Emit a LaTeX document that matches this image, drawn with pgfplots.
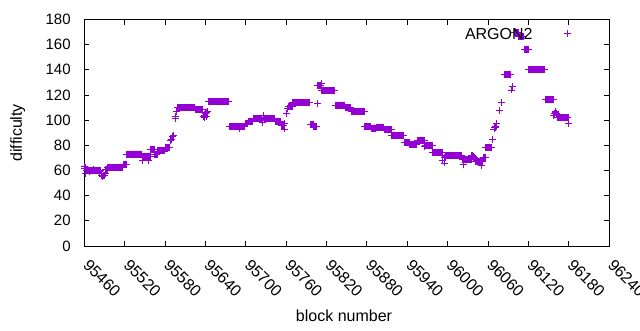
\documentclass[border=0pt]{standalone}
\usepackage{fontspec}
\setmainfont{Liberation Sans}
\usepackage{pgfplots}
\usepackage{pgfplotstable}
\pgfplotsset{compat=1.18}
\definecolor{gpviolet}{HTML}{9400D3}
\pgfplotstableread[row sep=\\]{
x y\\
95460 63\\95461 62\\95462 58\\
95463 60\\95464 60\\95465 60\\95466 60\\95467 59\\95468 60\\95469 60\\95470 60\\95471 60\\95472 60\\95473 60\\95474 61\\95475 60\\95476 60\\95477 60\\95478 60\\95479 60\\95480 60\\95481 60\\95482 59\\95483 60\\95484 60\\
95485 56\\95486 56\\95487 55\\95488 56\\95489 56\\95490 56\\95491 58\\95492 61\\95493 61\\95494 61\\
95495 62.5\\95496 62.5\\95497 62.5\\95498 62.5\\95499 62.5\\95500 62.5\\95501 62.5\\95502 62.5\\95503 62.5\\95504 62.5\\95505 62.5\\95506 62.5\\95507 62.5\\95508 62.5\\95509 62.5\\95510 62.5\\95511 62.5\\95512 62.5\\95513 62.5\\95514 62.5\\95515 62.5\\95516 62.5\\95517 62.5\\
95518 65\\95519 65\\95520 65\\95521 65\\95522 65\\
95523 73\\95524 73\\95525 73\\95526 73\\95527 73\\95528 73\\95529 73\\95530 73\\95531 73\\95532 73\\95533 73\\95534 73\\95535 73\\95536 73\\95537 73\\95538 73\\95539 73\\95540 73\\95541 73\\95542 73\\95543 73\\95544 73\\95545 73\\
95546 68\\
95547 71.5\\95548 71.5\\95549 71.5\\95550 71.5\\95551 71.5\\95552 71.5\\95553 71.5\\95554 71.5\\95555 71.5\\95556 68\\95557 71.5\\95558 71.5\\
95559 77\\95560 77\\95561 77\\95562 77\\95563 77\\95564 77\\
95565 73\\95566 73\\95567 73\\95568 73\\
95569 75.5\\95570 75.5\\95571 75.5\\95572 75.5\\95573 75.5\\95574 75.5\\95575 75.5\\95576 75.5\\95577 75.5\\95578 75.5\\95579 75.5\\
95580 78\\95581 78\\95582 78\\95583 78\\95584 78\\95585 78\\95586 78\\95587 78\\
95588 84\\95590 85\\95591 87\\95592 88\\95595 101\\95596 103\\95597 107\\
95598 110\\95599 110\\95600 110\\95601 110\\95602 110\\95603 110\\95604 110\\95605 110\\95606 110\\95607 110\\95608 110\\95609 110\\95610 110\\95611 110\\95612 110\\95613 110\\95614 110\\95615 110\\95616 110\\95617 110\\95618 110\\95619 110\\95620 110\\95621 110\\95622 110\\95623 110\\95624 110\\
95625 108.5\\95626 108.5\\95627 108.5\\95628 108.5\\95629 108.5\\95630 108.5\\95631 108.5\\95632 108.5\\95633 108.5\\95634 108.5\\95635 108.5\\95636 108.5\\
95637 103\\95638 102\\95639 104\\95640 105\\95641 103\\95642 106\\95643 107\\
95645 115\\95646 115\\95647 115\\95648 115\\95649 115\\95650 115\\95651 115\\95652 115\\95653 115\\95654 115\\95655 115\\95656 115\\95657 115\\95658 115\\95659 115\\95660 115\\95661 115\\95662 115\\95663 115\\95664 115\\95665 115\\95666 115\\95667 115\\95668 115\\95669 115\\95670 115\\95671 115\\95672 115\\95673 115\\95674 115\\95675 115\\
95676 95\\95677 95\\95678 95\\95679 95\\95680 95\\95681 95\\95682 95\\95683 95\\95684 95\\95685 95\\95686 95\\95687 95\\95688 95\\95689 95\\95690 95\\95691 93\\95692 95\\95693 95\\95694 95\\95695 95\\95696 95\\95697 95\\95698 95\\
95699 97\\95700 97\\95701 97\\95702 97\\95703 97\\
95704 99\\95705 99\\95706 99\\95707 99\\95708 99\\95709 99\\95710 99\\
95711 101.5\\95712 101.5\\95713 101.5\\95714 101.5\\95715 101.5\\95716 101.5\\95717 101.5\\95718 101.5\\95719 101.5\\95720 101.5\\95721 101.5\\95722 101.5\\95723 101.5\\95724 101.5\\
95725 98\\95726 102\\95727 104\\
95728 101\\95729 101\\95730 101\\95731 101\\95732 101\\95733 101\\95734 101\\95735 101\\95736 101\\95737 101\\95738 101\\95739 101\\95740 101\\95741 101\\95742 101\\95743 101\\
95744 99\\95745 99\\95746 99\\95747 99\\95748 99\\95749 99\\95750 99\\95751 99\\95752 99\\
95753 96\\95754 96\\95755 96\\95756 96\\95757 93\\95758 97\\95760 105\\95762 109\\
95763 111\\95764 111\\95765 111\\95766 111\\95767 111\\95768 111\\95769 111\\
95770 114\\95771 114\\95772 114\\95773 114\\95774 114\\95775 114\\95776 114\\95777 114\\95778 114\\95779 114\\95780 114\\95781 114\\95782 114\\95783 114\\95784 114\\95785 114\\95786 114\\95787 114\\95788 114\\95789 114\\95790 114\\95791 114\\95792 114\\95793 114\\95794 114\\95795 114\\
95796 96.5\\95797 96.5\\95798 96.5\\95799 96.5\\95800 96.5\\
95801 95\\95802 95\\95803 95\\95804 95\\95805 95\\
95806 113\\
95807 127.5\\95808 127.5\\95809 127.5\\95810 127.5\\95811 127.5\\95812 129\\
95813 123.5\\95814 123.5\\95815 123.5\\95816 123.5\\95817 123.5\\95818 123.5\\95819 123.5\\95820 123.5\\95821 123.5\\95822 123.5\\95823 123.5\\95824 123.5\\95825 123.5\\95826 123.5\\95827 123.5\\95828 123.5\\95829 123.5\\95830 123.5\\95831 123.5\\95832 123.5\\
95833 112\\95834 112\\95835 112\\95836 112\\95837 112\\95838 112\\95839 112\\95840 112\\95841 112\\95842 112\\95843 112\\95844 112\\95845 112\\95846 112\\95847 112\\
95848 110\\95849 110\\95850 110\\95851 110\\95852 110\\95853 110\\95854 110\\95855 110\\95856 110\\
95857 107\\95858 107\\95859 107\\95860 107\\95861 107\\95862 107\\95863 107\\95864 107\\95865 107\\95866 107\\95867 107\\95868 107\\95869 107\\95870 107\\95871 107\\95872 107\\95873 107\\95874 107\\95875 107\\95876 107\\
95877 95\\95878 95\\95879 95\\95880 95\\95881 95\\95882 95\\95883 95\\95884 95\\95885 95\\95886 95\\
95887 93.5\\95888 93.5\\95889 93.5\\95890 93.5\\95891 93.5\\95892 93.5\\95893 93.5\\
95894 94.5\\95895 94.5\\95896 94.5\\95897 94.5\\95898 94.5\\95899 94.5\\95900 94.5\\95901 94.5\\95902 94.5\\95903 94.5\\95904 94.5\\95905 94.5\\
95906 92.5\\95907 92.5\\95908 92.5\\95909 92.5\\95910 92.5\\95911 92.5\\95912 92.5\\95913 92.5\\95914 92.5\\95915 92.5\\95916 92.5\\
95917 88\\95918 88\\95919 88\\95920 88\\95921 88\\95922 88\\95923 88\\95924 88\\95925 88\\95926 88\\95927 88\\95928 88\\95929 88\\95930 88\\95931 88\\95932 88\\95933 88\\95934 88\\95935 88\\
95936 82.5\\95937 82.5\\95938 82.5\\95939 82.5\\95940 82.5\\95941 82.5\\95942 82.5\\95943 82.5\\
95944 81\\95945 81\\95946 81\\95947 81\\95948 81\\95949 81\\95950 81\\95951 81\\95952 81\\95953 81\\95954 81\\
95955 84\\95956 84\\95957 84\\95958 84\\95959 84\\95960 84\\95961 84\\95962 84\\95963 84\\95964 84\\95965 84\\
95966 79\\
95967 80\\95968 80\\95969 80\\95970 80\\95971 80\\95972 80\\95973 80\\95974 80\\95975 80\\95976 80\\95977 80\\
95978 74\\95979 74\\95980 74\\95981 74\\95982 74\\95983 74\\95984 74\\95985 74\\95986 74\\95987 74\\95988 74\\95989 74\\95990 74\\95991 74\\95992 74\\
95993 68\\95995 66\\95996 70\\95997 71\\
95998 72\\95999 72\\96000 72\\96001 72\\96002 72\\96003 72\\96004 72\\96005 72\\96006 72\\96007 72\\96008 72\\96009 72\\96010 72\\96011 72\\96012 72\\96013 72\\96014 72\\96015 72\\96016 72\\96017 72\\96018 72\\96019 72\\96020 72\\96021 72\\
96022 69\\96023 65\\96024 69\\96025 69\\96026 69\\96027 69\\96028 69\\96029 69\\96030 69\\96031 69\\96032 69\\96033 69\\96034 69\\96035 69\\
96036 72\\96037 72\\96038 71\\96039 70\\96040 70\\
96041 67\\96042 67\\96043 67\\96044 67\\96045 67\\96046 67\\96047 67\\96048 67\\96049 67\\96050 64\\96051 67\\96052 67\\
96053 70\\96054 70\\96055 70\\96056 70\\
96057 78\\96058 78\\96059 78\\96060 78\\96061 78\\96062 78\\96063 78\\96064 78\\96065 78\\
96067 85\\96069 93\\96070 94\\96071 94\\96072 95\\96073 97\\96077 108\\96080 114\\
96084 136\\96085 136\\96086 136\\96087 136\\96088 136\\96089 136\\96090 136\\96091 136\\96092 136\\96093 136\\96094 136\\
96095 124\\96097 127\\
96100 170\\96101 170\\96102 170\\96103 170\\96104 170\\96105 170\\
96106 166.5\\96107 166.5\\96108 166.5\\96109 166.5\\96110 166.5\\96111 166.5\\96112 166.5\\96113 166.5\\
96114 156.5\\96115 156.5\\96116 156.5\\96117 156.5\\96118 156.5\\96119 156.5\\96120 156.5\\
96121 140\\96122 140\\96123 140\\96124 140\\96125 140\\96126 140\\96127 140\\96128 140\\96129 140\\96130 140\\96131 140\\96132 140\\96133 140\\96134 140\\96135 140\\96136 140\\96137 140\\96138 140\\96139 140\\96140 140\\96141 140\\96142 140\\96143 140\\96144 140\\
96145 116.5\\96146 116.5\\96147 116.5\\96148 116.5\\96149 116.5\\96150 116.5\\96151 116.5\\96152 116.5\\96153 116.5\\96154 116.5\\96155 116.5\\96156 116.5\\96157 116.5\\
96158 104\\96159 105\\96160 106\\96161 107\\96162 105\\96163 104\\
96164 102\\96165 102\\96166 102\\96167 102\\96168 102\\96169 102\\96170 102\\96171 102\\96172 102\\96173 102\\96174 102\\96175 102\\96176 102\\96177 102\\96178 102\\96179 102\\
96180 97\\
}\argon
\begin{document}
\begin{tikzpicture}
\path[use as bounding box] (0pt,0pt) rectangle (640pt,330pt);
\begin{axis}[
  at={(84.3pt,84pt)}, anchor=south west, scale only axis,
  width=524.7pt, height=226.5pt,
  xmin=95460, xmax=96240, ymin=0, ymax=180,
  scaled x ticks=false, scaled y ticks=false,
  xtick={95460,95520,95580,95640,95700,95760,95820,95880,95940,96000,96060,96120,96180,96240},
  xticklabels={95460,95520,95580,95640,95700,95760,95820,95880,95940,96000,96060,96120,96180,96240},
  ytick={0,20,40,60,80,100,120,140,160,180},
  /pgf/number format/assume math mode=true,
  tick align=inside, major tick length=5pt,
  tick style={black, line width=0.8pt},
  axis line style={black, line width=0.8pt},
  yticklabel style={font=\fontsize{15}{18}\selectfont, inner sep=0pt, xshift=-13.5pt},
  xticklabel style={font=\fontsize{16}{19}\selectfont, inner sep=0pt, xshift=6pt, yshift=-12pt, rotate=-45, anchor=north west},
  label style={font=\fontsize{16}{19}\selectfont},
  xlabel={block number}, ylabel={difficulty},
  xlabel style={at={(axis description cs:0.495,-0.3355)}, anchor=base},
  ylabel style={at={(axis description cs:-0.127,0.5)}, anchor=center},
  legend plot pos=right,
  legend style={at={(axis description cs:0.7256,0.9448)}, anchor=west, draw=none, fill=none, inner sep=0pt, outer sep=0pt, column sep=0pt, nodes={inner sep=0pt, font=\fontsize{16}{19}\selectfont}},
  legend image code/.code={\pgfpathrectangle{\pgfpointorigin}{\pgfpoint{38.5pt}{11.5pt}}\pgfusepath{}\draw[#1] plot coordinates {(35pt,0.75pt)};},
]
\addplot[only marks, mark=+, mark size=3.5pt, gpviolet, line width=0.9pt] table[x=x,y=y] {\argon};
\addlegendentry{ARGON2}
\end{axis}
\end{tikzpicture}
\end{document}
